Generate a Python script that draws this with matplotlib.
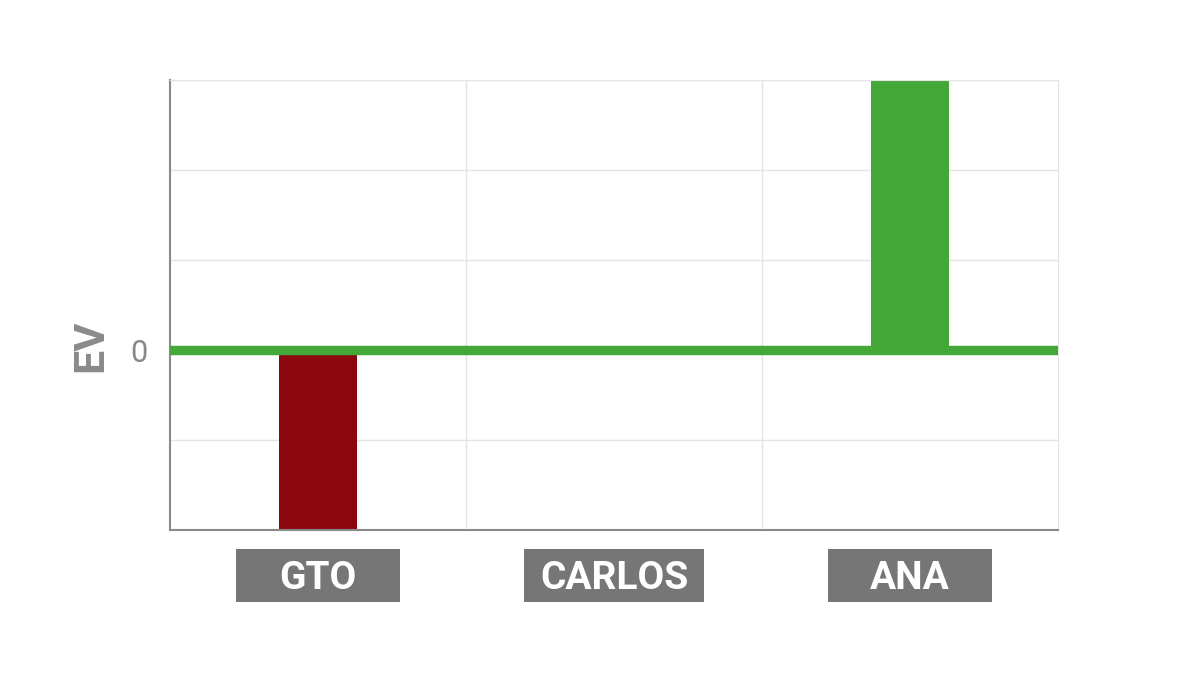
import matplotlib.pyplot as plt
from matplotlib.patches import Rectangle
from matplotlib.transforms import blended_transform_factory

players = ["GTO", "CARLOS", "ANA"]
ev = [-2, 0, 3]
bar_colors = ["#8b0710", "#43a838", "#43a838"]

GREEN = "#43a838"
GRAY = "#767676"

plt.rcParams['font.family'] = ['Roboto', 'DejaVu Sans']

fig = plt.figure(figsize=(12, 6.86), dpi=100)
ax = fig.add_axes([170 / 1200, 1 - 530 / 686, 888 / 1200, 450 / 686])

x = list(range(len(players)))
ax.bar(x, ev, width=0.265, color=bar_colors, zorder=2)
ax.axhline(0, color=GREEN, lw=6.8, zorder=3)

ax.set_xlim(-0.5, len(players) - 0.5)
ax.set_ylim(-2, 3)

# grid
ax.set_yticks(range(-2, 4))
ax.set_yticklabels(["" if v != 0 else "0" for v in range(-2, 4)])
ax.set_xticks([i + 0.5 for i in x[:-1]])
ax.set_xticklabels([])
ax.grid(True, color="#e4e4e4", lw=1, zorder=0)
ax.tick_params(length=0, pad=16, labelsize=22, labelcolor="#888888")

for s in ["top", "right"]:
    ax.spines[s].set_color("#e4e4e4")
for s in ["left", "bottom"]:
    ax.spines[s].set_color("#8a8a8a")
    ax.spines[s].set_linewidth(1.5)

ax.set_ylabel("EV", fontsize=31, fontweight="bold", color="#8a8a8a")
ax.yaxis.set_label_coords(-0.066, 0.41)

# category labels in gray boxes
trans = blended_transform_factory(ax.transData, ax.transAxes)
for i, name in enumerate(players):
    w = max(0.555, len(name) * 0.101)
    ax.add_patch(Rectangle((i - w / 2, -0.16), w, 0.118, transform=trans,
                           facecolor=GRAY, edgecolor="none", clip_on=False))
    ax.text(i, -0.107, name, transform=trans, ha="center", va="center",
            color="white", fontsize=28, fontweight="bold")

fig.savefig("out.png", dpi=100, facecolor="white")
